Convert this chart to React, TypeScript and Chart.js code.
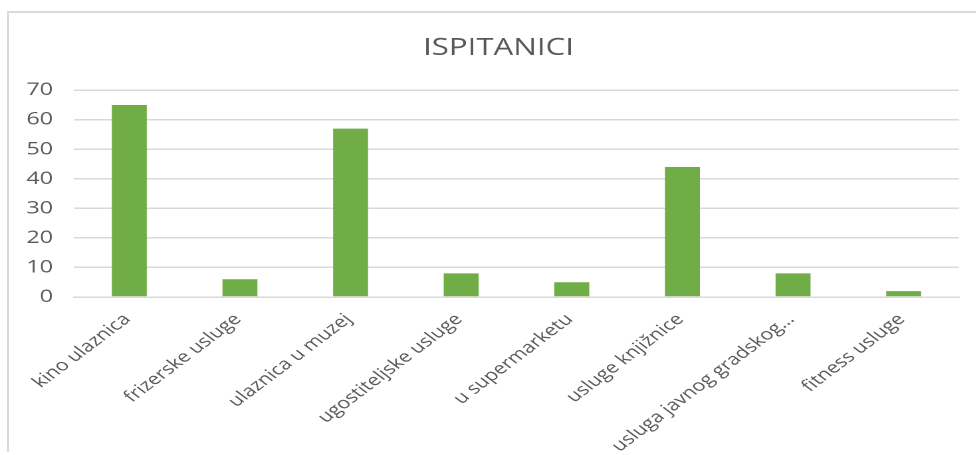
import React, { useEffect, useRef } from "react";
import { Chart, registerables } from "chart.js";

Chart.register(...registerables);

const chartTitle = "ISPITANICI";
const categories = [
  "kino ulaznica",
  "frizerske usluge",
  "ulaznica u muzej",
  "ugostiteljske usluge",
  "u supermarketu",
  "usluge knjižnice",
  "usluga javnog gradskog…",
  "fitness usluge",
];
const values = [65, 6, 57, 8, 5, 44, 8, 2];
const yMin = 0;
const yMax = 70;
const yStep = 10;

// The reference picture is stretched horizontally; draw on a narrower canvas and stretch it.
const DISPLAY_W = 976;
const DISPLAY_H = 455;
const CANVAS_CSS_W = 997;
const INNER_W = 750;

export default function App() {
  const ref = useRef<HTMLCanvasElement | null>(null);

  useEffect(() => {
    if (!ref.current) return;
    const chart = new Chart(ref.current, {
      type: "bar",
      data: {
        labels: categories,
        datasets: [
          {
            label: chartTitle,
            data: values,
            backgroundColor: "#70AD47",
            borderWidth: 0,
            barPercentage: 0.316,
            categoryPercentage: 1,
            yAxisID: "y",
          },
        ],
      },
      options: {
        responsive: false,
        animation: false,
        devicePixelRatio: 2,
        layout: { padding: 0 },
        plugins: {
          legend: { display: false },
          tooltip: { enabled: false },
          title: {
            display: true,
            text: chartTitle,
            color: "#595959",
            font: { family: "'Open Sans', sans-serif", size: 23.5, weight: "normal" },
            padding: { top: 34, bottom: 28 },
          },
        },
        scales: {
          x: {
            grid: { display: false, drawTicks: false },
            border: { display: true, color: "#d9d9d9", width: 1.5 },
            ticks: {
              color: "#595959",
              font: { family: "'Open Sans', sans-serif", size: 16 },
              minRotation: 45,
              maxRotation: 45,
              autoSkip: false,
              padding: 13,
              labelOffset: -1.5,
            },
            afterFit: (scale: any) => {
              scale.height = 158;
            },
          },
          y: {
            position: "left",
            min: yMin,
            max: yMax,
            grid: { color: "#d9d9d9", lineWidth: 1.5, drawTicks: false },
            border: { display: false },
            ticks: {
              stepSize: yStep,
              color: "#595959",
              font: { family: "'Open Sans', sans-serif", size: 17.5 },
              padding: 15.8,
            },
            afterFit: (scale: any) => {
              scale.width = 55.67;
            },
          },
          yRight: {
            position: "right",
            min: yMin,
            max: yMax,
            grid: { display: false, drawTicks: false },
            border: { display: false },
            ticks: { display: false },
            afterFit: (scale: any) => {
              scale.width = 28.6;
            },
          },
        },
      },
    });
    return () => chart.destroy();
  }, []);

  return (
    <div
      style={{
        position: "fixed",
        left: 0,
        top: 0,
        width: DISPLAY_W,
        height: DISPLAY_H,
        overflow: "hidden",
        background: "#ffffff",
      }}
    >
      <div
        style={{
          position: "absolute",
          left: 7,
          top: 11,
          width: 1000,
          height: 441,
          boxSizing: "border-box",
          borderTop: "2px solid #d9d9d9",
          borderLeft: "2px solid #d9d9d9",
        }}
      />
      <canvas
        ref={ref}
        width={INNER_W}
        height={DISPLAY_H}
        style={{
          position: "absolute",
          left: 0,
          top: 0,
          width: CANVAS_CSS_W + "px",
          height: DISPLAY_H + "px",
        }}
      />
    </div>
  );
}
